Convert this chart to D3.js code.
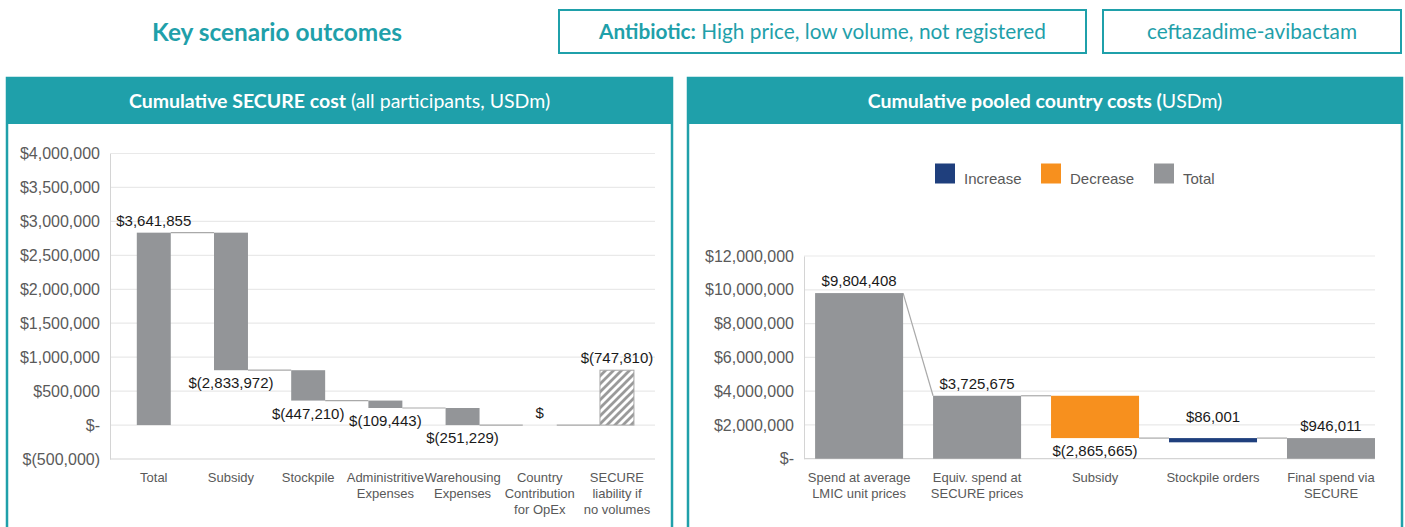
<!DOCTYPE html>
<html>
<head>
<meta charset="utf-8">
<script src="https://cdn.jsdelivr.net/npm/d3@7"></script>
<style>
  body { margin: 0; background: #fff; }
  svg { display: block; }
</style>
</head>
<body>
<svg id="chart" width="1405" height="527"></svg>
<script>
// ---- data ----
// "\n" marks where the category label breaks onto a new line
var leftCategories = ["Total", "Subsidy", "Stockpile", "Administritive\nExpenses", "Warehousing\nExpenses", "Country\nContribution\nfor OpEx", "SECURE\nliability if\nno volumes"];
var leftFrom = [0, 2833972, 807882, 360672, 251229, 0, 0];
var leftTo = [2833972, 807882, 360672, 251229, 0, 0, 807882];
var leftKind = ["total", "decrease", "decrease", "decrease", "decrease", "decrease", "liability"];
var leftLabels = ["$3,641,855", "$(2,833,972)", "$(447,210)", "$(109,443)", "$(251,229)", "$", "$(747,810)"];
var leftTicks = [-500000, 0, 500000, 1000000, 1500000, 2000000, 2500000, 3000000, 3500000, 4000000];

var rightCategories = ["Spend at average\nLMIC unit prices", "Equiv. spend at\nSECURE prices", "Subsidy", "Stockpile orders", "Final spend via\nSECURE"];
var rightFrom = [0, 0, 3725675, 970000, 0];
var rightTo = [9804408, 3725675, 1220000, 1220000, 1220000];
var rightKind = ["total", "total", "decrease", "increase", "total"];
var rightLabels = ["$9,804,408", "$3,725,675", "$(2,865,665)", "$86,001", "$946,011"];
var rightTicks = [0, 2000000, 4000000, 6000000, 8000000, 10000000, 12000000];

var legendItems = ["Increase", "Decrease", "Total"];

// ---- style ----
var teal = "#1fa0aa";
var gray = "#939598";
var orange = "#f7901e";
var navy = "#1f3f7d";
var chartFont = "'Liberation Sans', Arial, sans-serif";
var headFont = "Lato, 'Open Sans', sans-serif";

var svg = d3.select("#chart");

var defs = svg.append("defs");
var hatch = defs.append("pattern")
  .attr("id", "hatch")
  .attr("patternUnits", "userSpaceOnUse")
  .attr("width", 8).attr("height", 8);
hatch.append("rect").attr("width", 8).attr("height", 8).attr("fill", "#fff");
hatch.append("path")
  .attr("d", "M-2,2 l4,-4 M0,8 l8,-8 M6,10 l4,-4")
  .attr("stroke", "#9a9a9a").attr("stroke-width", 2.8);

// ---- top header ----
svg.append("text")
  .attr("x", 277).attr("y", 41)
  .attr("text-anchor", "middle")
  .style("font-family", headFont).style("font-size", "24.4px").style("font-weight", 700)
  .attr("fill", teal)
  .text("Key scenario outcomes");

function headerBox(x, w, parts) {
  svg.append("rect")
    .attr("x", x).attr("y", 10).attr("width", w).attr("height", 43)
    .attr("fill", "#fff").attr("stroke", teal).attr("stroke-width", 2);
  var t = svg.append("text")
    .attr("x", x + w / 2).attr("y", 39)
    .attr("text-anchor", "middle")
    .style("font-family", headFont).style("font-size", "20.8px")
    .attr("fill", teal);
  parts.forEach(function (p) {
    t.append("tspan").style("font-weight", p[1]).text(p[0]);
  });
}
headerBox(559, 527, [["Antibiotic:", 700], [" High price, low volume, not registered", 400]]);
headerBox(1103, 298, [["ceftazadime-avibactam", 400]]);

// ---- panels ----
function panel(x0, x1, parts) {
  svg.append("rect")
    .attr("x", x0).attr("y", 78).attr("width", x1 - x0).attr("height", 470)
    .attr("fill", "#fff").attr("stroke", teal).attr("stroke-width", 2.5);
  svg.append("rect")
    .attr("x", x0).attr("y", 78).attr("width", x1 - x0).attr("height", 46)
    .attr("fill", teal);
  var t = svg.append("text")
    .attr("x", (x0 + x1) / 2).attr("y", 108)
    .attr("text-anchor", "middle")
    .style("font-family", headFont).style("font-size", "19.5px")
    .attr("fill", "#fff");
  parts.forEach(function (p) {
    t.append("tspan").style("font-weight", p[1]).text(p[0]);
  });
}
panel(7, 672, [["Cumulative SECURE cost", 700], [" (all participants, USDm)", 400]]);
panel(688, 1402, [["Cumulative pooled country costs (", 700], ["USDm)", 400]]);

function moneyFormat(v) {
  if (v === 0) return "$-";
  var s = d3.format(",")(Math.abs(v));
  return v < 0 ? "$(" + s + ")" : "$" + s;
}

// draws a waterfall into the given plot box
function waterfall(o) {
  var g = svg.append("g");
  var x = d3.scaleBand()
    .domain(o.categories)
    .range([o.left, o.right])
    .paddingInner(o.padInner)
    .paddingOuter(o.padOuter)
    .align(o.align);
  var y = d3.scaleLinear().domain(o.domain).range([o.bottom, o.top]);

  // gridlines
  g.selectAll(".grid").data(o.ticks.filter(function (t) { return t !== o.domain[0]; }))
    .enter().append("line")
    .attr("x1", o.left).attr("x2", o.right)
    .attr("y1", function (d) { return y(d); }).attr("y2", function (d) { return y(d); })
    .attr("stroke", "#e9e9e9").attr("stroke-width", 1.2);

  // axes
  var yAxis = d3.axisLeft(y).tickValues(o.ticks).tickFormat(moneyFormat).tickSize(0).tickPadding(10);
  var ya = g.append("g").attr("transform", "translate(" + o.left + ",0)").call(yAxis);
  ya.select(".domain").attr("stroke", "#d4d4d4");
  ya.selectAll("text")
    .style("font-family", chartFont).style("font-size", "16px").attr("fill", "#5a5a5a");

  g.append("line")
    .attr("x1", o.left).attr("x2", o.right)
    .attr("y1", o.bottom).attr("y2", o.bottom)
    .attr("stroke", "#d4d4d4").attr("stroke-width", 1.2);

  var cats = g.selectAll(".cat").data(o.categories).enter().append("text")
    .attr("text-anchor", "middle")
    .style("font-family", chartFont).style("font-size", "13px")
    .attr("fill", "#595959");
  cats.each(function (d) {
    var el = d3.select(this);
    d.split("\n").forEach(function (line, k) {
      el.append("tspan")
        .attr("x", x(d) + x.bandwidth() / 2)
        .attr("y", o.bottom + 23 + k * 16)
        .text(line);
    });
  });

  var idx = d3.range(o.categories.length);

  function exitVal(i) {
    if (o.kind[i] === "increase") return Math.max(o.from[i], o.to[i]);
    return o.to[i];
  }
  function entryVal(i) {
    if (o.kind[i] === "total") return o.to[i];
    if (o.kind[i] === "increase") return Math.max(o.from[i], o.to[i]);
    return o.from[i];
  }

  // connectors
  g.selectAll(".conn").data(idx.slice(0, -1)).enter().append("line")
    .attr("x1", function (i) { return x(o.categories[i]) + x.bandwidth(); })
    .attr("x2", function (i) { return x(o.categories[i + 1]); })
    .attr("y1", function (i) { return y(exitVal(i)); })
    .attr("y2", function (i) { return y(entryVal(i + 1)); })
    .attr("stroke", "#a9a9a9").attr("stroke-width", 1.2);

  // bars
  g.selectAll(".bar").data(idx).enter().append("rect")
    .attr("x", function (i) { return x(o.categories[i]); })
    .attr("width", x.bandwidth())
    .attr("y", function (i) { return y(Math.max(o.from[i], o.to[i])); })
    .attr("height", function (i) { return Math.abs(y(o.from[i]) - y(o.to[i])); })
    .attr("fill", function (i) { return o.colors[o.kind[i]]; })
    .attr("stroke", function (i) { return o.kind[i] === "liability" ? "#a6a6a6" : "none"; })
    .attr("stroke-width", 1);

  // value labels
  g.selectAll(".val").data(idx).enter().append("text")
    .attr("x", function (i) { return x(o.categories[i]) + x.bandwidth() / 2; })
    .attr("y", function (i) {
      var hi = y(Math.max(o.from[i], o.to[i]));
      var lo = y(Math.min(o.from[i], o.to[i]));
      if (o.kind[i] === "decrease" && o.from[i] !== o.to[i]) return lo + 18;
      if (o.kind[i] === "increase") return hi - 16;
      return hi - 7;
    })
    .attr("text-anchor", "middle")
    .style("font-family", chartFont).style("font-size", "15px")
    .attr("fill", "#1a1a1a")
    .text(function (i) { return o.labels[i]; });

  return { x: x, y: y };
}

waterfall({
  categories: leftCategories, from: leftFrom, to: leftTo, kind: leftKind, labels: leftLabels,
  ticks: leftTicks, domain: [-500000, 4000000],
  left: 110, right: 655, top: 153.5, bottom: 459,
  padInner: 0.56, padOuter: 0.31, align: 0.56,
  colors: { total: gray, decrease: gray, liability: "url(#hatch)" }
});

waterfall({
  categories: rightCategories, from: rightFrom, to: rightTo, kind: rightKind, labels: rightLabels,
  ticks: rightTicks, domain: [0, 12000000],
  left: 804, right: 1375, top: 256, bottom: 458.7,
  padInner: 0.254, padOuter: 0.047, align: 1,
  colors: { total: gray, decrease: orange, increase: navy }
});

// legend (right panel)
var legendX = [935, 1041, 1154];
var legendColors = [navy, orange, gray];
var lg = svg.append("g");
legendItems.forEach(function (name, i) {
  lg.append("rect")
    .attr("x", legendX[i]).attr("y", 163.5).attr("width", 20).attr("height", 20)
    .attr("fill", legendColors[i]);
  lg.append("text")
    .attr("x", legendX[i] + 29).attr("y", 184)
    .style("font-family", chartFont).style("font-size", "15px")
    .attr("fill", "#595959")
    .text(name);
});
</script>
</body>
</html>
